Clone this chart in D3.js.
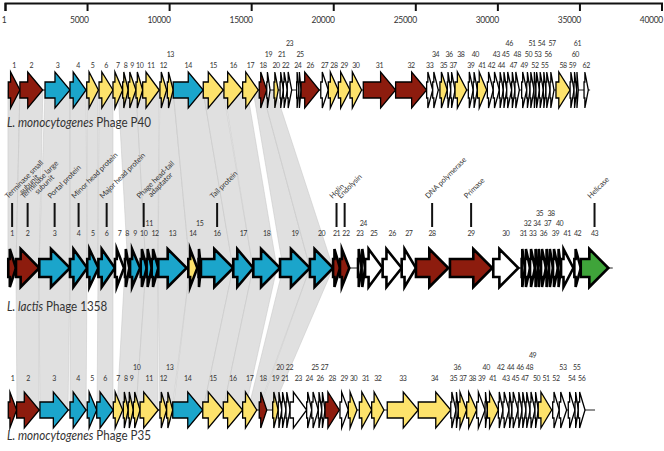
<!DOCTYPE html>
<html><head><meta charset="utf-8">
<script src="https://cdn.jsdelivr.net/npm/d3@7"></script>
<style>
body{margin:0;background:#fff}
svg{display:block}
text{font-family:Lato,'Noto Sans',sans-serif;fill:#333}
</style></head><body>
<svg id="c" width="664" height="451"></svg>
<script>
// ---------- DATA ----------
const axisTicks = [1, 5000, 10000, 15000, 20000, 25000, 30000, 35000, 40000];
const axisLabels = ["1", "5000", "10000", "15000", "20000", "25000", "30000", "35000", "40000"];

// gene: [start bp, end bp, class]  r=red, c=cyan, y=yellow, w=white, g=green
const p40Genes = [
 [200,910,'r'],[910,2300,'r'],[2440,3960,'c'],[3960,4940,'c'],[4980,5690,'y'],[5730,6580,'y'],
 [6580,7170,'y'],[7170,7510,'y'],[7510,7980,'y'],[7980,8390,'y'],[8390,9400,'y'],[9440,9850,'y'],
 [9890,10250,'y'],[10250,12080,'c'],[12080,13300,'y'],[13340,14480,'y'],[14480,15430,'y'],[15490,15950,'r'],
 [15950,16150,'w'],[16390,16650,'y'],[16760,16960,'w'],[16960,17200,'w'],[17200,17470,'w'],[17770,17910,'w'],
 [17910,18040,'w'],[18040,19150,'r'],[19240,19700,'w'],[19700,20310,'y'],[20310,21020,'y'],[21020,21730,'y'],
 [21830,23800,'r'],[23800,25690,'r'],[25690,26060,'w'],[26060,26400,'w'],[26500,26950,'y'],[26950,27160,'w'],
 [27160,27420,'w'],[27420,28130,'y'],[28230,28530,'w'],[28530,28780,'w'],[28780,29350,'y'],[29390,29750,'w'],
 [29750,30120,'w'],[30120,30360,'w'],[30360,30570,'w'],[30570,30870,'w'],[30870,31070,'w'],[31070,31340,'w'],
 [31480,31790,'w'],[31790,31990,'w'],[31990,32230,'w'],[32230,32350,'w'],[32350,32560,'w'],[32560,32800,'w'],
 [32800,32960,'w'],[32960,33210,'w'],[33210,33450,'w'],[33570,34430,'y'],[34430,34670,'w'],[34670,34830,'w'],
 [34830,34930,'w'],[35280,35540,'w']
];
const p40Length = 35650;

const l1358Genes = [
 [200,670,'r'],[670,2090,'r'],[2090,3960,'c'],[3960,5010,'c'],[5010,5690,'c'],[5690,6700,'c'],
 [6700,7250,'w'],[7310,7570,'w'],[7620,8230,'c'],[8270,8630,'c'],[8630,8940,'c'],[8940,9340,'c'],
 [9340,11070,'c'],[11170,11720,'y'],[11790,11940,'w'],[11940,13910,'c'],[13910,15130,'c'],[15130,16760,'c'],
 [16760,18580,'c'],[18580,19990,'c'],[19990,20410,'r'],[20410,20980,'r'],[21510,21730,'w'],[21730,21940,'w'],
 [21940,23010,'w'],[23010,24170,'w'],[24170,25040,'w'],[25040,27010,'r'],[27110,29690,'r'],[29750,31280,'w'],
 [31480,31680,'w'],[31680,31990,'w'],[31990,32290,'w'],[32290,32480,'w'],[32480,32660,'w'],[32660,32960,'w'],
 [32960,33150,'w'],[33150,33390,'w'],[33390,33690,'w'],[33690,33880,'w'],[33880,34630,'w'],[34690,35080,'w'],
 [35080,36760,'g']
];
const l1358Length = 37030;

const p35Genes = [
 [200,710,'r'],[710,2090,'r'],[2130,3860,'c'],[3960,4940,'c'],[5010,5590,'c'],[5590,6600,'c'],
 [6600,7170,'y'],[7210,7510,'y'],[7510,7820,'y'],[7820,8230,'y'],[8230,9340,'y'],[9440,9850,'y'],
 [9850,10220,'y'],[10220,12050,'c'],[12050,13300,'y'],[13300,14480,'y'],[14480,15340,'y'],[15490,15950,'r'],
 [16310,16650,'y'],[16650,16860,'w'],[16860,17120,'w'],[17120,17370,'w'],[17370,18380,'w'],[18380,18690,'w'],
 [18690,19090,'w'],[19090,19300,'w'],[19300,19500,'w'],[19500,20370,'r'],[20410,20920,'w'],[20920,21450,'y'],
 [21590,22340,'y'],[22340,23090,'y'],[23290,25180,'y'],[25180,27160,'y'],[27160,27480,'w'],[27480,27620,'w'],
 [27620,28130,'y'],[28130,28740,'y'],[28740,29250,'w'],[29250,29390,'w'],[29390,30060,'y'],[30060,30340,'w'],
 [30340,30710,'w'],[30710,30890,'w'],[30890,31260,'w'],[31260,31500,'w'],[31500,31740,'w'],[31740,31990,'w'],
 [31990,32290,'w'],[32290,32490,'w'],[32490,33310,'y'],[33370,33770,'w'],[33770,34220,'w'],[34320,34730,'w'],
 [34730,34930,'w'],[34930,35340,'w']
];
const p35Length = 35950;

// similarity ribbons: [upper start, upper end, lower start, lower end] (bp)
const ribbonsP40to1358 = [
 [180,910,180,670],[910,2310,670,2070],[2440,3960,2070,3960],[3960,4940,3960,5000],[5000,5670,5000,5670],
 [5730,6580,5670,6580],[6890,7980,7490,8590],[7980,9380,8590,9320],[9440,10240,9320,11270],
 [10240,12060,11270,13890],[12060,13280,13890,15110],[13340,14750,15110,16570],[15110,15660,16940,18580],
 [15660,16450,18580,19990]
];
const ribbons1358toP35 = [
 [670,2070,730,2070],[2070,3960,2130,3840],[3960,5000,3960,4940],[5670,6580,5610,6580],
 [7310,8590,6820,7980],[8590,9320,7980,9320],[9320,11270,9440,10180],[11270,13890,10240,12060],
 [13890,15110,12060,13280],[15110,16570,13280,14630],[16940,18580,14810,15420],[18580,19990,15480,16270]
];

// 1358 functional annotations: [gene number, label lines]
const annotations1358 = [
 [1, ["Terminase small", "subunit"]],
 [2, ["Terminase large", "subunit"]],
 [3, ["Portal protein"]],
 [4, ["Minor head protein"]],
 [6, ["Major head protein"]],
 [10, ["Phage head-tail", "adaptator"]],
 [16, ["Tail protein"]],
 [21, ["Holin"]],
 [22, ["Endolysin"]],
 [28, ["DNA polymerase"]],
 [29, ["Primase"]],
 [43, ["Helicase"]]
];

const classColors = {r:'#8d1c0e', c:'#1ba5cb', y:'#fde26b', w:'#ffffff', g:'#3fa43a'};

// ---------- DRAW ----------
const svg = d3.select('#c');
const x = d3.scaleLinear().domain([1, 40000]).range([5, 661.5]);

// axis
const axG = svg.append('g').attr('transform', 'translate(0,3)')
  .call(d3.axisBottom(x).tickValues(axisTicks).tickFormat((d,i)=>axisLabels[i]).tickSizeOuter(0).tickSize(8));
axG.select('.domain').attr('stroke', '#111').attr('stroke-width', 2);
axG.selectAll('.tick line').attr('stroke', '#111').attr('stroke-width', 2);
axG.selectAll('.tick text').attr('text-anchor', 'end').attr('x', 1).attr('y', 14)
  .style('font-size', '8.5px').style('letter-spacing', '-0.3px').attr('fill', '#333');

const rows = [
  {genes:p40Genes, len:p40Length, cy:90, labBase:68, step:11, hh:18, bh:8, hl:15, sw:1.3,
   italic:'L. monocytogenes', rest:' Phage P40', nameY:127},
  {genes:l1358Genes, len:l1358Length, cy:268, labBase:235.5, step:10, hh:19, bh:9, hl:19, sw:2.6,
   italic:'L. lactis', rest:' Phage 1358', nameY:311},
  {genes:p35Genes, len:p35Length, cy:410, labBase:381, step:11.5, hh:18, bh:8, hl:15, sw:1.3,
   italic:'L. monocytogenes', rest:' Phage P35', nameY:440}
];

// ribbons
const ribG = svg.append('g');
function drawRibbons(list, yA, yB) {
  ribG.selectAll(null).data(list).enter().append('path')
    .attr('d', d => `M${x(d[0])},${yA}L${x(d[1])},${yA}L${x(d[3])},${yB}L${x(d[2])},${yB}Z`)
    .attr('fill', '#d8d8d8').attr('fill-opacity', 0.8)
    .attr('stroke', '#c4c4c4').attr('stroke-width', 0.5);
}
drawRibbons(ribbonsP40to1358, rows[0].cy, rows[1].cy);
drawRibbons(ribbons1358toP35, rows[1].cy, rows[2].cy);

function arrowPath(d, r) {
  const x0 = x(d[0]), x1 = x(d[1]), w = x1 - x0;
  const hl = Math.min(w * 0.8, r.hl), xb = x1 - hl, cy = r.cy;
  return `M${x0},${cy - r.bh}L${xb},${cy - r.bh}L${xb},${cy - r.hh}L${x1},${cy}` +
         `L${xb},${cy + r.hh}L${xb},${cy + r.bh}L${x0},${cy + r.bh}Z`;
}

const NUM_LS = '-0.45px';
const measure = svg.append('text').style('font-size', '7px').style('letter-spacing', NUM_LS);
function textW(s) { measure.text(s); return measure.node().getComputedTextLength(); }

rows.forEach(r => {
  const g = svg.append('g');
  // backbone
  g.append('line').attr('x1', x(r.genes[0][0])).attr('x2', x(r.len))
    .attr('y1', r.cy).attr('y2', r.cy).attr('stroke', '#222').attr('stroke-width', 1);
  g.selectAll(null).data(r.genes).enter().append('path')
    .attr('d', d => arrowPath(d, r))
    .attr('fill', d => classColors[d[2]])
    .attr('stroke', '#000').attr('stroke-width', r.sw)
    .attr('stroke-linejoin', 'miter').attr('stroke-miterlimit', 6);
  // number labels, greedy stacking with small horizontal nudge
  const lastRight = [-1e9, -1e9, -1e9, -1e9];
  const PAD = 2.2, NUDGE = 1.5;
  r.genes.forEach((d, i) => {
    const s = String(i + 1), cx = (x(d[0]) + x(d[1])) / 2, w = textW(s);
    let lv = 0, pos = cx;
    for (; lv < 3; lv++) {
      const left = cx - w / 2;
      if (left >= lastRight[lv] + PAD) { pos = cx; break; }
      if (lastRight[lv] + PAD - left <= NUDGE) { pos = lastRight[lv] + PAD + w / 2; break; }
    }
    lastRight[lv] = pos + w / 2;
    g.append('text').attr('x', pos).attr('y', r.labBase - lv * r.step)
      .attr('text-anchor', 'middle').style('font-size', '7px').style('letter-spacing', NUM_LS)
      .attr('fill', '#444').text(s);
  });
  // genome name
  const t = g.append('text').attr('transform', `translate(7,${r.nameY}) scale(0.86,1)`)
    .style('font-size', '13.5px').attr('fill', '#222');
  t.append('tspan').style('font-style', 'italic').text(r.italic);
  t.append('tspan').text(r.rest);
});

// annotations on 1358
const annG = svg.append('g');
annotations1358.forEach(([n, lines]) => {
  const d = l1358Genes[n - 1];
  const cx = (x(d[0]) + x(d[1])) / 2;
  annG.append('line').attr('x1', cx).attr('x2', cx).attr('y1', 203).attr('y2', 227)
    .attr('stroke', '#111').attr('stroke-width', 2);
  const tg = annG.append('g').attr('transform', `translate(${cx - 4},${199}) rotate(-45)`);
  measure.style('font-size', '7.5px').style('letter-spacing', '-0.1px');
  const w1 = textW(lines[0]);
  lines.forEach((s, k) => {
    const wk = textW(s);
    tg.append('text').attr('x', k === 0 ? 0 : (w1 - wk) / 2).attr('y', k * 7)
      .style('font-size', '7.5px').style('letter-spacing', '-0.1px').attr('fill', '#333').text(s);
  });
});
measure.remove();
</script>
</body></html>
